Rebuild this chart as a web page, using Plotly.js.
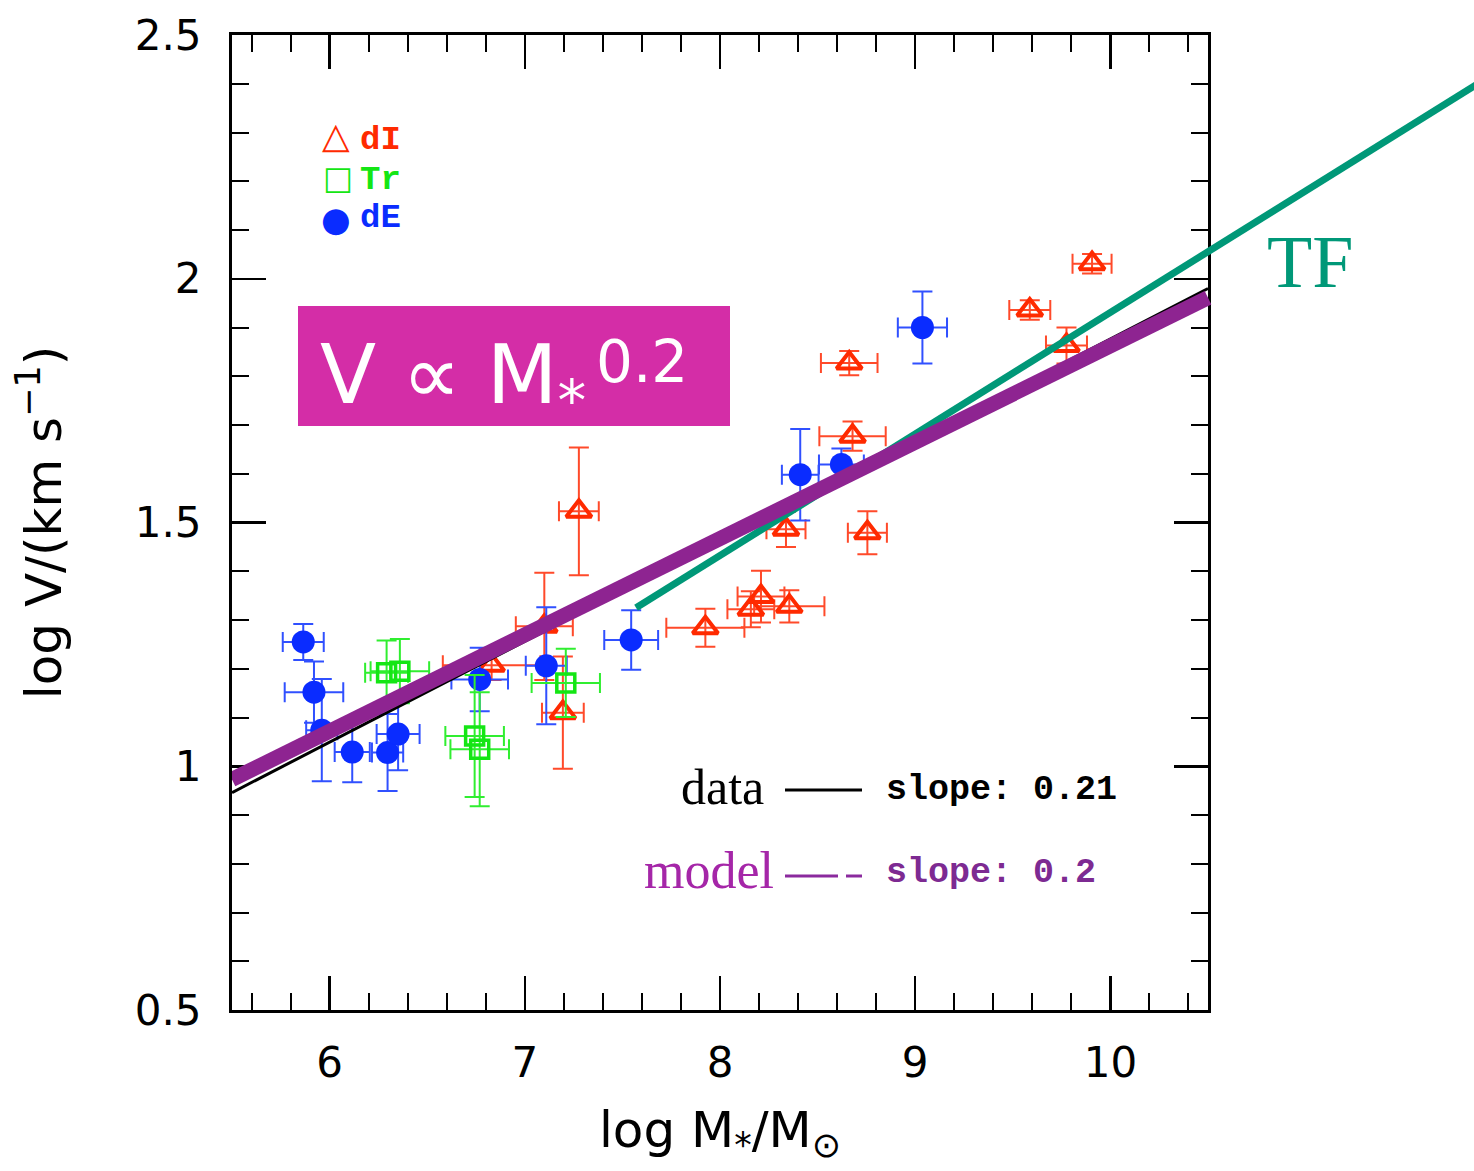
<!DOCTYPE html>
<html>
<head>
<meta charset="utf-8">
<script src="https://cdn.plot.ly/plotly-3.0.1.min.js"></script>
<style>html,body{margin:0;padding:0;background:#fff;}</style>
</head>
<body>
<div id="chart" style="width:1474px;height:1171px;"></div>
<script>
// ---------- data ----------
const dI_x    = [6.83, 7.10, 7.195, 7.277, 7.925, 8.158, 8.21, 8.355, 8.338, 8.662, 8.679, 8.755, 9.587, 9.775, 9.906];
const dI_y    = [1.207, 1.287, 1.11, 1.523, 1.284, 1.322, 1.348, 1.328, 1.486, 1.827, 1.677, 1.479, 1.936, 1.863, 2.031];
const dI_xerr = [0.25, 0.146, 0.107, 0.102, 0.20, 0.12, 0.12, 0.18, 0.10, 0.145, 0.17, 0.10, 0.105, 0.105, 0.10];
const dI_yerr = [0.03, 0.11, 0.115, 0.131, 0.039, 0.037, 0.053, 0.033, 0.036, 0.025, 0.03, 0.044, 0.02, 0.037, 0.02];

const dE_x    = [5.865, 5.92, 5.96, 6.116, 6.297, 6.351, 6.769, 7.11, 7.545, 8.411, 8.622, 9.037];
const dE_y    = [1.255, 1.152, 1.074, 1.029, 1.028, 1.066, 1.178, 1.206, 1.259, 1.598, 1.619, 1.90];
const dE_xerr = [0.105, 0.15, 0.08, 0.09, 0.08, 0.11, 0.145, 0.105, 0.138, 0.094, 0.115, 0.126];
const dE_yerr = [0.037, 0.063, 0.105, 0.062, 0.079, 0.074, 0.065, 0.12, 0.061, 0.094, 0.033, 0.074];

const Tr_x    = [6.292, 6.36, 6.743, 6.769, 7.21];
const Tr_y    = [1.192, 1.195, 1.062, 1.035, 1.171];
const Tr_xerr = [0.11, 0.15, 0.15, 0.15, 0.175];
const Tr_yerr = [0.066, 0.066, 0.125, 0.117, 0.07];

// fitted / model / Tully-Fisher lines (end points)
const data_fit_x = [5.5, 10.5];
const data_fit_y = [0.946, 1.98];
const model_x    = [5.5, 10.5];
const model_y    = [0.973, 1.961];
const tf_x       = [7.57, 11.95];
const tf_y       = [1.325, 2.417];

const xTicks = [6, 7, 8, 9, 10];
const yTicks = [0.5, 1, 1.5, 2, 2.5];
const xRange = [5.5, 10.5];
const yRange = [0.5, 2.5];

// ---------- layout geometry ----------
const W = 1474, H = 1171;
const FL = 232, FR = 1208, FT = 35, FB = 1010;   // frame in pixels
const px = v => v / W;
const py = v => 1 - v / H;
const xPerPx = (xRange[1] - xRange[0]) / (FR - FL);
const yPerPx = (yRange[1] - yRange[0]) / (FB - FT);

const RED = '#FF2A00', RED_E = '#FF4A2A';
const BLUE = '#0A2CFF', BLUE_E = '#3050FF';
const GREEN = '#14E614', GREEN_E = '#30EE30';
const PURPLE = '#8E2491';
const TFC = '#009878';

const traces = [
  {
    x: dI_x, y: dI_y, type: 'scatter', mode: 'markers', name: 'dI',
    marker: {symbol: 'triangle-up-open', size: 22, color: RED, line: {width: 4, color: RED}},
    error_x: {type: 'data', array: dI_xerr, color: RED_E, thickness: 2, width: 10},
    error_y: {type: 'data', array: dI_yerr, color: RED_E, thickness: 2, width: 10},
    xaxis: 'x', yaxis: 'y'
  },
  {
    x: dE_x, y: dE_y, type: 'scatter', mode: 'markers', name: 'dE',
    marker: {symbol: 'circle', size: 23, color: BLUE, line: {width: 0}},
    error_x: {type: 'data', array: dE_xerr, color: BLUE_E, thickness: 2, width: 10},
    error_y: {type: 'data', array: dE_yerr, color: BLUE_E, thickness: 2, width: 10},
    xaxis: 'x', yaxis: 'y'
  },
  {
    x: Tr_x, y: Tr_y, type: 'scatter', mode: 'markers', name: 'Tr',
    marker: {symbol: 'square-open', size: 18, color: GREEN, line: {width: 3.5, color: GREEN}},
    error_x: {type: 'data', array: Tr_xerr, color: GREEN_E, thickness: 2, width: 10},
    error_y: {type: 'data', array: Tr_yerr, color: GREEN_E, thickness: 2, width: 10},
    xaxis: 'x', yaxis: 'y'
  },
  // lines on a full-figure overlay subplot with identical scale (so TF can leave the frame)
  {
    x: data_fit_x, y: data_fit_y, type: 'scatter', mode: 'lines', name: 'data fit',
    line: {color: 'black', width: 3}, xaxis: 'x2', yaxis: 'y2'
  },
  {
    x: tf_x, y: tf_y, type: 'scatter', mode: 'lines', name: 'TF',
    line: {color: TFC, width: 7}, xaxis: 'x2', yaxis: 'y2'
  },
  {
    x: model_x, y: model_y, type: 'scatter', mode: 'lines', name: 'model',
    line: {color: PURPLE, width: 15}, xaxis: 'x2', yaxis: 'y2'
  }
];

const tickFont = {family: 'DejaVu Sans, sans-serif', size: 42, color: 'black'};
const titleFont = {family: 'DejaVu Sans, sans-serif', size: 50, color: 'black'};
const serif = 'Liberation Serif, Times New Roman, serif';
const mono = 'Liberation Mono, Courier New, monospace';

const axisCommon = {
  showline: true, linewidth: 3, linecolor: 'black', mirror: 'allticks',
  ticks: 'inside', ticklen: 34, tickwidth: 2.5, tickcolor: 'black',
  showgrid: false, zeroline: false, tickfont: tickFont,
  fixedrange: true
};

const layout = {
  width: W, height: H,
  margin: {l: 0, r: 0, t: 0, b: 0},
  paper_bgcolor: 'white', plot_bgcolor: 'rgba(0,0,0,0)',
  showlegend: false,
  xaxis: Object.assign({}, axisCommon, {
    domain: [px(FL), px(FR)], range: xRange, anchor: 'y', ticklabelstandoff: 14,
    tickmode: 'array', tickvals: xTicks, ticktext: xTicks.map(String),
    minor: {dtick: 0.2, tick0: 0, ticks: 'inside', ticklen: 17, tickwidth: 2, tickcolor: 'black', showgrid: false},
    title: {text: 'log M<sub>*</sub>/M<sub>⊙</sub>', font: titleFont, standoff: 26}
  }),
  yaxis: Object.assign({}, axisCommon, {
    domain: [py(FB), py(FT)], range: yRange, anchor: 'x', ticklabelstandoff: 19,
    tickmode: 'array', tickvals: yTicks, ticktext: yTicks.map(String),
    minor: {dtick: 0.1, tick0: 0, ticks: 'inside', ticklen: 17, tickwidth: 2, tickcolor: 'black', showgrid: false},
    title: {text: 'log V/(km s<sup>−1</sup>)', font: titleFont, standoff: 58}
  }),
  xaxis2: {
    domain: [px(FL), 1], anchor: 'y2', visible: false, fixedrange: true,
    range: [xRange[0], xRange[0] + (W - FL) * xPerPx]
  },
  yaxis2: {
    domain: [py(FB), 1], anchor: 'x2', visible: false, fixedrange: true,
    range: [yRange[0], yRange[0] + FB * yPerPx]
  },
  shapes: [
    {type: 'rect', xref: 'paper', yref: 'paper', x0: px(298), x1: px(730), y0: py(426), y1: py(306),
     fillcolor: '#D42DA7', line: {width: 0}, layer: 'above'},
    {type: 'line', xref: 'paper', yref: 'paper', x0: px(785), x1: px(862), y0: py(790), y1: py(790),
     line: {color: 'black', width: 3}},
    {type: 'line', xref: 'paper', yref: 'paper', x0: px(785), x1: px(838), y0: py(876), y1: py(876),
     line: {color: '#8B2A9E', width: 3}},
    {type: 'line', xref: 'paper', yref: 'paper', x0: px(846), x1: px(862), y0: py(876), y1: py(876),
     line: {color: '#8B2A9E', width: 3}}
  ],
  annotations: [
    // legend (top-left)
    {xref: 'paper', yref: 'paper', x: px(336), y: py(136), xanchor: 'center', yanchor: 'middle', showarrow: false,
     text: '△', font: {family: 'DejaVu Sans', size: 36, color: RED, weight: 'bold'}},
    {xref: 'paper', yref: 'paper', x: px(358), y: py(140), xanchor: 'left', yanchor: 'middle', showarrow: false,
     text: 'dI', font: {family: mono, size: 34, color: RED, weight: 'bold'}},
    {xref: 'paper', yref: 'paper', x: px(338), y: py(178), xanchor: 'center', yanchor: 'middle', showarrow: false,
     text: '□', font: {family: 'DejaVu Sans', size: 32, color: GREEN}},
    {xref: 'paper', yref: 'paper', x: px(358), y: py(180), xanchor: 'left', yanchor: 'middle', showarrow: false,
     text: 'Tr', font: {family: mono, size: 34, color: GREEN, weight: 'bold'}},
    {xref: 'paper', yref: 'paper', x: px(336), y: py(219), xanchor: 'center', yanchor: 'middle', showarrow: false,
     text: '●', font: {family: 'DejaVu Sans', size: 34, color: BLUE}},
    {xref: 'paper', yref: 'paper', x: px(358), y: py(218), xanchor: 'left', yanchor: 'middle', showarrow: false,
     text: 'dE', font: {family: mono, size: 34, color: BLUE, weight: 'bold'}},
    // scaling relation box text
    {xref: 'paper', yref: 'paper', x: px(318), y: py(380), xanchor: 'left', yanchor: 'middle', showarrow: false,
     text: 'V ∝ M<sub>*</sub>', font: {family: 'DejaVu Sans', size: 82, color: 'white'}},
    {xref: 'paper', yref: 'paper', x: px(594), y: py(362), xanchor: 'left', yanchor: 'middle', showarrow: false,
     text: '0.2', font: {family: 'DejaVu Sans', size: 58, color: 'white'}},
    // TF label
    {xref: 'paper', yref: 'paper', x: px(1310), y: py(262), xanchor: 'center', yanchor: 'middle', showarrow: false,
     text: 'TF', font: {family: serif, size: 74, color: TFC}},
    // slope labels
    {xref: 'paper', yref: 'paper', x: px(766), y: py(787), xanchor: 'right', yanchor: 'middle', showarrow: false,
     text: 'data', font: {family: serif, size: 50, color: 'black'}},
    {xref: 'paper', yref: 'paper', x: px(884), y: py(790), xanchor: 'left', yanchor: 'middle', showarrow: false,
     text: 'slope: 0.21', font: {family: mono, size: 35, color: 'black', weight: 'bold'}},
    {xref: 'paper', yref: 'paper', x: px(776), y: py(870), xanchor: 'right', yanchor: 'middle', showarrow: false,
     text: 'model', font: {family: serif, size: 52, color: '#A526A8'}},
    {xref: 'paper', yref: 'paper', x: px(884), y: py(873), xanchor: 'left', yanchor: 'middle', showarrow: false,
     text: 'slope: 0.2', font: {family: mono, size: 35, color: '#7D2A92', weight: 'bold'}}
  ]
};

Plotly.newPlot('chart', traces, layout, {displayModeBar: false, staticPlot: true});
</script>
</body>
</html>
